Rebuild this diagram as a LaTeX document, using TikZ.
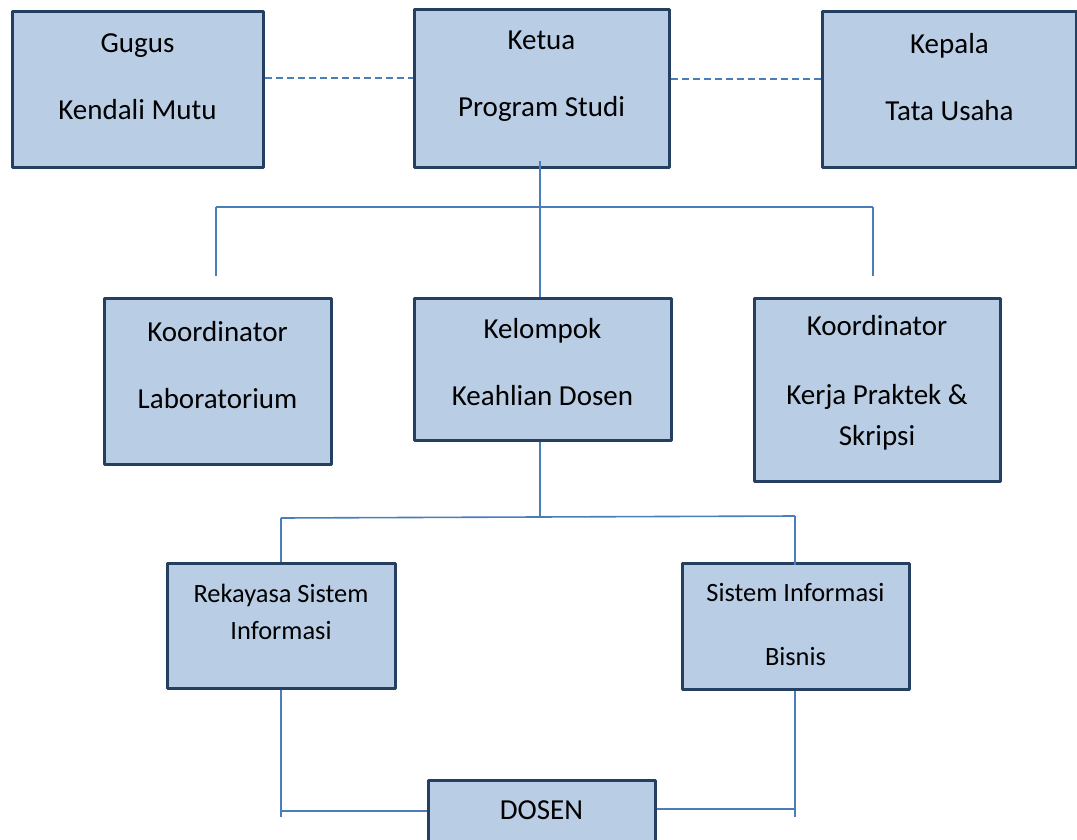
\documentclass[tikz,border=0pt]{standalone}
\usepackage{fontspec}
\setmainfont{Carlito}
\usetikzlibrary{calc}
\definecolor{boxfill}{HTML}{B9CDE5}
\definecolor{boxline}{HTML}{243F60}
\definecolor{linkblue}{HTML}{4A7EBB}
\begin{document}
\begin{tikzpicture}[x=0.5pt,y=-0.5pt,line join=round,
    unit/.style={draw=boxline,fill=boxfill,line width=1.5pt,rectangle,inner sep=0pt},
    lbl/.style={align=center,inner sep=0pt,font=\fontsize{14.5}{33.5}\selectfont},
    lblsm/.style={align=center,inner sep=0pt,font=\fontsize{13.2}{18.5}\selectfont},
    link/.style={draw=linkblue,line width=0.8pt},
    dashlink/.style={link,dash pattern=on 3.5pt off 2pt}]
	\useasboundingbox (0,0) rectangle (1077,840);
	% boxes
	\node[unit,minimum width=125.5pt,minimum height=78pt] (gkm) at (137.5,90) {};
	\node[unit,minimum width=127.5pt,minimum height=79pt] (kps) at (541.5,89) {};
	\node[unit,minimum width=127pt,minimum height=78pt] (ktu) at (949.5,90) {};
	\node[unit,minimum width=113.5pt,minimum height=83pt] (klab) at (217.5,381) {};
	\node[unit,minimum width=128.5pt,minimum height=71pt] (kkd) at (542.5,369) {};
	\node[unit,minimum width=123pt,minimum height=91.5pt] (kkp) at (877,389.5) {};
	\node[unit,minimum width=114pt,minimum height=62.5pt] (rsi) at (281,625.5) {};
	\node[unit,minimum width=113.5pt,minimum height=63pt] (sib) at (795.5,626) {};
	\node[unit,minimum width=113.5pt,minimum height=50pt] (dsn) at (541.5,830) {};
	% texts
	\node[lbl] (gkm-t) at (137.5,77) {Gugus\\Kendali Mutu};
	\node[lbl] (kps-t) at (541.5,76) {Ketua\\Program Studi};
	\node[lbl] (ktu-t) at (949.5,77) {Kepala\\Tata Usaha};
	\node[lbl] (klab-t) at (217.5,365) {Koordinator\\Laboratorium};
	\node[lbl] (kkd-t) at (542.5,362) {Kelompok\\Keahlian Dosen};
	\node[lbl,font=\fontsize{14.5}{20.5}\selectfont] (kkp-t) at (877,383) {Koordinator\\[14pt]Kerja Praktek \&\\Skripsi};
	\node[lblsm] (rsi-t) at (281,611.5) {Rekayasa Sistem\\Informasi};
	\node[lblsm,font=\fontsize{13.2}{32}\selectfont] (sib-t) at (795.5,625) {Sistem Informasi\\Bisnis};
	\node[lbl] (dsn-t) at (541.5,810) {DOSEN};
	% coordination lines
	\draw[dashlink] ([yshift=6pt]gkm.east) -- ([yshift=6pt]gkm.east -| kps.west);
	\draw[dashlink] ([yshift=5pt]kps.east) -- ([yshift=5pt]kps.east -| ktu.west);
	% first level
	\coordinate (b1l) at (216,207);
	\coordinate (b1r) at (873,207);
	\draw[link] ([yshift=4pt]kps.south -| 540,0) -- (kkd.north -| 540,0);
	\draw[link] (b1l) -- (b1r);
	\draw[link] (b1l) -- ++(0,69);
	\draw[link] (b1r) -- ++(0,69);
	% second level
	\coordinate (b2l) at (281,518);
	\coordinate (b2r) at (795,516);
	\draw[link] (kkd.south -| 540,0) -- (540,517);
	\draw[link] (b2l) -- (b2r);
	\draw[link] (b2l) -- (rsi.north -| b2l);
	\draw[link] (b2r) -- ([yshift=-1.5pt]sib.north -| b2r);
	% to dosen
	\coordinate (c1) at (281,811);
	\coordinate (c2) at (795,809);
	\draw[link] (rsi.south -| c1) -- ([yshift=-3pt]c1);
	\draw[link] (c1) -- (dsn.west |- c1);
	\draw[link] (sib.south -| c2) -- ([yshift=-4pt]c2);
	\draw[link] (c2) -- (dsn.east |- c2);
\end{tikzpicture}
\end{document}
